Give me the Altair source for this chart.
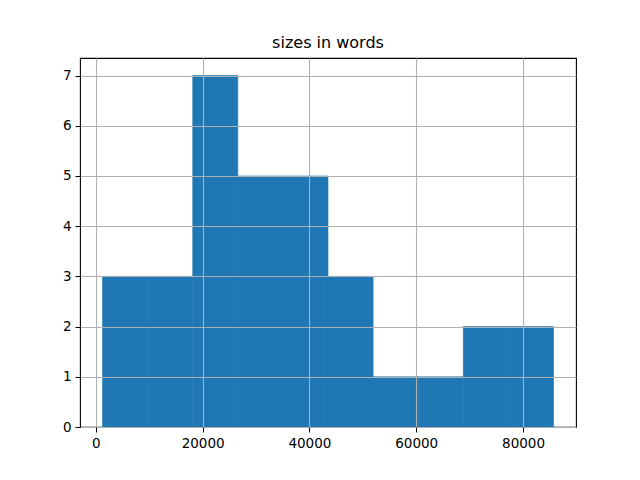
import altair as alt
import pandas as pd

bin_start = [1264, 9708, 18152, 26596, 35040, 43484, 51928, 60372, 68816, 77260]
bin_end = [9708, 18152, 26596, 35040, 43484, 51928, 60372, 68816, 77260, 85704]
counts = [3, 3, 7, 5, 5, 3, 1, 1, 2, 2]
x_ticks = [0, 20000, 40000, 60000, 80000]
y_ticks = [0, 1, 2, 3, 4, 5, 6, 7]

df = pd.DataFrame({"start": bin_start, "end": bin_end, "count": counts})

font = "DejaVu Sans"

chart = alt.Chart(df).mark_bar(color="#1f77b4", stroke="#1f77b4", strokeWidth=0.6,
                               opacity=1).encode(
    x=alt.X("start:Q",
            scale=alt.Scale(domain=[-2958, 89922], nice=False, zero=False, padding=0),
            axis=alt.Axis(values=x_ticks, format="d", title=None, grid=True,
                          gridColor="#b0b0b0", gridWidth=1.1, tickColor="black",
                          tickSize=5, tickWidth=1, labelPadding=4, domain=False,
                          labelFont=font, labelFontSize=13.5, labelColor="black",
                          zindex=1)),
    x2="end:Q",
    y=alt.Y("count:Q",
            scale=alt.Scale(domain=[0, 7.35], nice=False, padding=0),
            axis=alt.Axis(values=y_ticks, title=None, grid=True,
                          gridColor="#b0b0b0", gridWidth=1.1, tickColor="black",
                          tickSize=5, tickWidth=1, labelPadding=4, domain=False,
                          labelFont=font, labelFontSize=13.5, labelColor="black",
                          zindex=1)),
    y2=alt.datum(0),
).properties(
    width=496,
    height=369,
    title=alt.TitleParams("sizes in words", font=font, fontSize=16,
                          fontWeight="normal", color="black", anchor="middle",
                          offset=7),
    autosize=alt.AutoSizeParams(type="none"),
    padding={"left": 72, "top": 50, "right": 56, "bottom": 45},
).configure_view(stroke="black", strokeWidth=1.1)

chart.save("out.html", embed_options={"renderer": "svg", "actions": False})
